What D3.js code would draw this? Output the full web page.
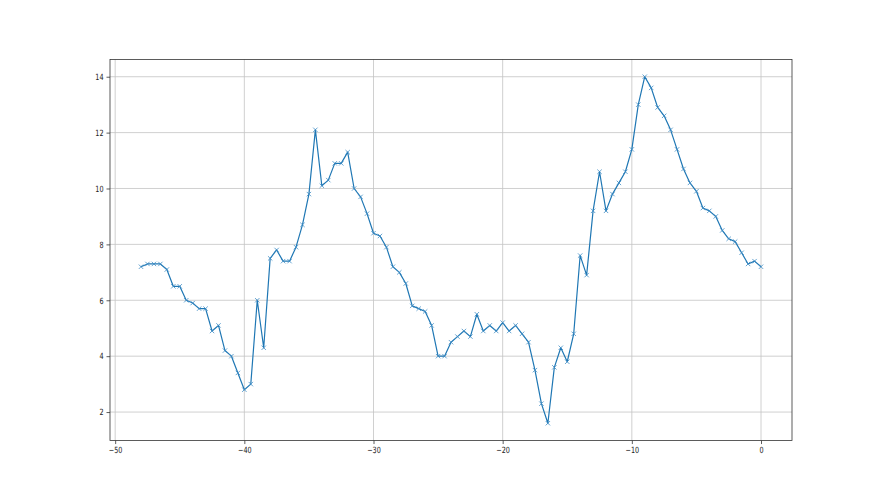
<!DOCTYPE html>
<html>
<head>
<meta charset="utf-8">
<script src="https://cdn.jsdelivr.net/npm/d3@7"></script>
<style>
  body { margin: 0; background: #fff; }
  svg { display: block; }
  .tick text { font-family: "DejaVu Sans", sans-serif; font-size: 8.6px; fill: #222; }
</style>
</head>
<body>
<div id="chart"></div>
<script>
// x positions, every half step from -48 to 0
var xValues = [
  -48, -47.5, -47, -46.5, -46, -45.5, -45, -44.5, -44, -43.5,
  -43, -42.5, -42, -41.5, -41, -40.5, -40, -39.5, -39, -38.5,
  -38, -37.5, -37, -36.5, -36, -35.5, -35, -34.5, -34, -33.5,
  -33, -32.5, -32, -31.5, -31, -30.5, -30, -29.5, -29, -28.5,
  -28, -27.5, -27, -26.5, -26, -25.5, -25, -24.5, -24, -23.5,
  -23, -22.5, -22, -21.5, -21, -20.5, -20, -19.5, -19, -18.5,
  -18, -17.5, -17, -16.5, -16, -15.5, -15, -14.5, -14, -13.5,
  -13, -12.5, -12, -11.5, -11, -10.5, -10, -9.5, -9, -8.5,
  -8, -7.5, -7, -6.5, -6, -5.5, -5, -4.5, -4, -3.5,
  -3, -2.5, -2, -1.5, -1, -0.5, 0
];

var yValues = [
  7.2, 7.3, 7.3, 7.3, 7.1, 6.5, 6.5, 6.0, 5.9, 5.7,
  5.7, 4.9, 5.1, 4.2, 4.0, 3.4, 2.8, 3.0, 6.0, 4.3,
  7.5, 7.8, 7.4, 7.4, 7.9, 8.7, 9.8, 12.1, 10.1, 10.3,
  10.9, 10.9, 11.3, 10.0, 9.7, 9.1, 8.4, 8.3, 7.9, 7.2,
  7.0, 6.6, 5.8, 5.7, 5.6, 5.1, 4.0, 4.0, 4.5, 4.7,
  4.9, 4.7, 5.5, 4.9, 5.1, 4.9, 5.2, 4.9, 5.1, 4.8,
  4.5, 3.5, 2.3, 1.6, 3.6, 4.3, 3.8, 4.8, 7.6, 6.9,
  9.2, 10.6, 9.2, 9.8, 10.2, 10.6, 11.4, 13.0, 14.0, 13.6,
  12.9, 12.6, 12.1, 11.4, 10.7, 10.2, 9.9, 9.3, 9.2, 9.0,
  8.5, 8.2, 8.1, 7.7, 7.3, 7.4, 7.2
];

var xTicks = [-50, -40, -30, -20, -10, 0];
var yTicks = [2, 4, 6, 8, 10, 12, 14];

var width = 880, height = 495;
var margin = { left: 110, right: 88, top: 59.4, bottom: 54.45 };

var points = xValues.map(function(x, i) { return { x: x, y: yValues[i] }; });

// matplotlib-style 5% padding around the data
var xExt = d3.extent(xValues), yExt = d3.extent(yValues);
var xPad = (xExt[1] - xExt[0]) * 0.05, yPad = (yExt[1] - yExt[0]) * 0.05;

var x = d3.scaleLinear()
  .domain([xExt[0] - xPad, xExt[1] + xPad])
  .range([margin.left, width - margin.right]);

var y = d3.scaleLinear()
  .domain([yExt[0] - yPad, yExt[1] + yPad])
  .range([height - margin.bottom, margin.top]);

var svg = d3.select('#chart').append('svg')
  .attr('width', width)
  .attr('height', height);

var fmt = function(d) { return String(d).replace('-', '\u2212'); };

// grid
svg.append('g')
  .selectAll('line.vgrid')
  .data(xTicks)
  .enter().append('line')
  .attr('x1', function(d) { return x(d); })
  .attr('x2', function(d) { return x(d); })
  .attr('y1', margin.top)
  .attr('y2', height - margin.bottom)
  .style('stroke', '#c4c4c4')
  .style('stroke-width', 0.8);

svg.append('g')
  .selectAll('line.hgrid')
  .data(yTicks)
  .enter().append('line')
  .attr('x1', margin.left)
  .attr('x2', width - margin.right)
  .attr('y1', function(d) { return y(d); })
  .attr('y2', function(d) { return y(d); })
  .style('stroke', '#c4c4c4')
  .style('stroke-width', 0.8);

// the series
var line = d3.line()
  .x(function(d) { return x(d.x); })
  .y(function(d) { return y(d.y); });

svg.append('path')
  .datum(points)
  .attr('d', line)
  .style('fill', 'none')
  .style('stroke', '#1f77b4')
  .style('stroke-width', 1.2)
  .style('stroke-linejoin', 'round');

var m = 2.2;
svg.append('g')
  .selectAll('path.marker')
  .data(points)
  .enter().append('path')
  .attr('d', function(d) {
    var cx = x(d.x), cy = y(d.y);
    return 'M' + (cx - m) + ',' + (cy - m) + 'L' + (cx + m) + ',' + (cy + m) +
      'M' + (cx - m) + ',' + (cy + m) + 'L' + (cx + m) + ',' + (cy - m);
  })
  .style('stroke', '#3d8cc4')
  .style('stroke-width', 0.8);

// axes
var xAxis = d3.axisBottom(x).tickValues(xTicks).tickFormat(fmt).tickSize(3.5).tickPadding(3);
var yAxis = d3.axisLeft(y).tickValues(yTicks).tickFormat(fmt).tickSize(3.5).tickPadding(3);

var gx = svg.append('g')
  .attr('transform', 'translate(0,' + (height - margin.bottom) + ')')
  .call(xAxis);
var gy = svg.append('g')
  .attr('transform', 'translate(' + margin.left + ',0)')
  .call(yAxis);

[gx, gy].forEach(function(g) {
  g.select('.domain').remove();
  g.selectAll('.tick line').style('stroke', '#333').style('stroke-width', 0.8);
});

// labels in the reference are narrow, squeeze them horizontally
gx.selectAll('.tick text')
  .attr('transform', 'scale(0.75,1)');
gy.selectAll('.tick text')
  .attr('x', -6.5 / 0.75)
  .attr('transform', 'scale(0.75,1)');

// frame
svg.append('rect')
  .attr('x', margin.left)
  .attr('y', margin.top)
  .attr('width', width - margin.left - margin.right)
  .attr('height', height - margin.top - margin.bottom)
  .style('fill', 'none')
  .style('stroke', '#333')
  .style('stroke-width', 0.8);
</script>
</body>
</html>
